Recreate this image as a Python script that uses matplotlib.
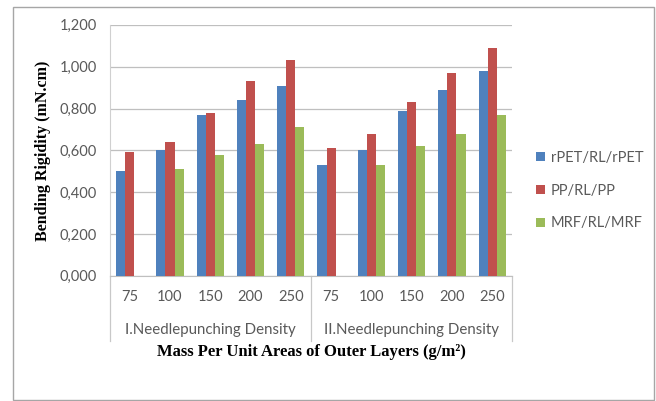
import matplotlib.pyplot as plt
import numpy as np
from matplotlib.patches import Rectangle

# Bending rigidity values (mN.cm) per outer-layer mass, two needlepunching densities
masses = ["75", "100", "150", "200", "250"]
groups = ["I.Needlepunching Density", "II.Needlepunching Density"]
series = ["rPET/RL/rPET", "PP/RL/PP", "MRF/RL/MRF"]
rpet = [0.50, 0.60, 0.77, 0.84, 0.91, 0.53, 0.60, 0.79, 0.89, 0.98]
pp = [0.59, 0.64, 0.78, 0.93, 1.03, 0.61, 0.68, 0.83, 0.97, 1.09]
mrf = [np.nan, 0.51, 0.58, 0.63, 0.71, np.nan, 0.53, 0.62, 0.68, 0.77]
colors = ["#4F81BD", "#C0504D", "#9BBB59"]

sans = ["Lato", "DejaVu Sans"]
serif = ["Liberation Serif", "DejaVu Serif"]

fig = plt.figure(figsize=(6.56, 4.01), dpi=100)
ax = fig.add_axes([0.167, 0.312, 0.614, 0.626])

# outer chart frame
fig.patches.append(Rectangle((13 / 656, 1 / 401), 641 / 656, 393 / 401,
                             transform=fig.transFigure, fill=False,
                             edgecolor="#a6a6a6", linewidth=1.0))

x = np.arange(len(rpet))
w = 0.225
for i, (vals, c, name) in enumerate(zip([rpet, pp, mrf], colors, series)):
    ax.bar(x + (i - 1) * w, vals, width=w, color=c, label=name, zorder=3)

ax.set_xlim(-0.5, len(rpet) - 0.5)
ax.set_ylim(0, 1.2)
yt = np.arange(0, 1.21, 0.2)
ax.set_yticks(yt)
ax.set_yticklabels([f"{v:.3f}".replace(".", ",") for v in yt],
                   fontsize=10.5, color="#595959", family=sans)
ax.yaxis.grid(True, color="#bfbfbf", linewidth=0.9, zorder=0)
ax.tick_params(axis="y", length=0, pad=9)
ax.tick_params(axis="x", length=0)
ax.set_xticks([])
for s in ["top", "right"]:
    ax.spines[s].set_visible(False)
ax.spines["left"].set_color("#d0d0d0")
ax.spines["bottom"].set_color("#bfbfbf")

# two-level category axis
tr = ax.get_xaxis_transform()
for xi, m in zip(x, masses * 2):
    ax.text(xi, -0.085, m, transform=tr, ha="center", va="center",
            fontsize=10.5, color="#595959", family=sans)
for gi, g in enumerate(groups):
    ax.text(gi * 5 + 2, -0.215, g, transform=tr, ha="center", va="center",
            fontsize=10.8, color="#595959", family=sans)
for xb in [-0.5, 4.5, 9.5]:
    ax.plot([xb, xb], [0, -0.26], transform=tr, color="#c8c8c8",
            linewidth=0.9, clip_on=False)

ax.text(0.5, -0.305, "Mass Per Unit Areas of Outer Layers (g/m²)",
        transform=ax.transAxes, ha="center", va="center", fontsize=12,
        fontweight="bold", family=serif)
fig.text(43 / 656, 0.625, "Bending Rigidity (mN.cm)", rotation=90,
         ha="center", va="center", fontsize=11.5, fontweight="bold",
         family=serif)

ax.legend(loc="center left", bbox_to_anchor=(1.045, 0.34), frameon=False,
          borderaxespad=0, handlelength=0.6, handleheight=0.6,
          handletextpad=0.4, labelspacing=1.3,
          prop={"family": sans, "size": 10.5}, labelcolor="#595959")

fig.savefig("out.png", dpi=100)
